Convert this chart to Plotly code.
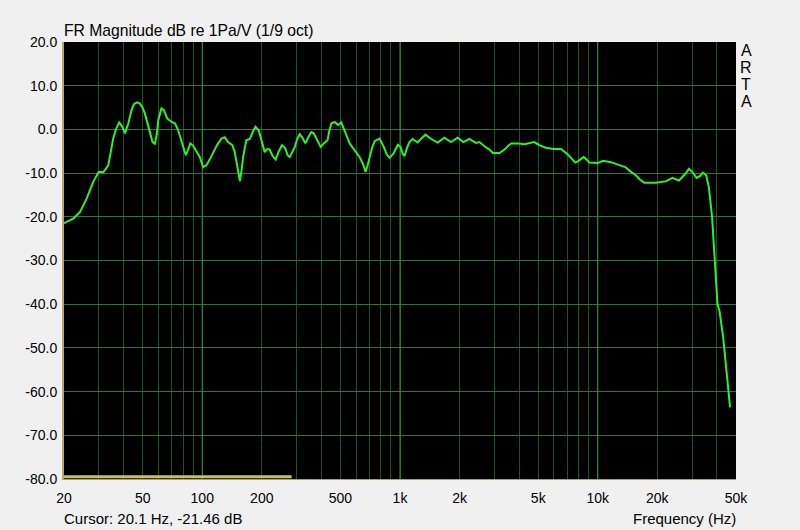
import math
import plotly.graph_objects as go

# Frequency response data (Hz, dB)
freq_hz = [20, 20.5, 22.3, 24.1, 26.0, 28.1, 30.0, 31.6, 33.5, 35.5, 36.6, 38.0, 39.3, 40.7,
           42.3, 43.9, 45.2, 46.9, 48.4, 49.8, 51.3, 53.3, 54.7, 56.1, 57.6, 59.0, 59.9, 61.1,
           62.2, 64.0, 66.5, 70.0, 72.8, 75.6, 79.5, 82.6, 84.6, 87.0, 89.8, 93.8, 97.2, 101,
           105, 109.4, 113, 118.8, 125, 130, 135, 142, 146, 149, 152, 155, 158, 161, 167, 174,
           180, 186, 193, 200, 207, 213, 219, 227, 235, 244, 253, 263, 270, 277, 285, 294, 302,
           311, 322, 332, 344, 356, 366, 381, 397, 412, 430, 438, 450, 468, 486, 505, 526, 540,
           556, 590, 624, 648, 670, 686, 702, 724, 744, 788, 828, 856, 886, 928, 975, 1006,
           1030, 1054, 1084, 1116, 1160, 1228, 1286, 1346, 1438, 1552, 1676, 1812, 1956, 2092,
           2240, 2420, 2520, 2624, 2732, 2820, 2950, 3188, 3376, 3646, 3936, 4252, 4500, 4774,
           5060, 5460, 5970, 6520, 7040, 7320, 7700, 8000, 8480, 8740, 9060, 10000, 10640,
           11640, 12840, 13860, 14600, 15580, 16260, 17180, 19640, 22060, 23820, 25760, 27820,
           28920, 30040, 31600, 32820, 34000, 35320, 36440, 37860, 39060, 40300, 41240, 43080,
           44740, 46660]
mag_db = [-21.5, -21.2, -20.4, -18.9, -15.9, -12.0, -9.7, -9.8, -8.2, -2.0, 0.0, 1.6, 0.7, -0.9,
          1.4, 4.4, 5.8, 6.2, 5.9, 5.1, 3.6, 0.6, -1.3, -2.9, -3.3, -0.9, 2.1, 3.9,
          4.8, 4.4, 2.5, 1.7, 1.4, -0.2, -3.2, -5.9, -4.8, -3.2, -3.7, -5.2, -6.3, -8.6,
          -8.2, -6.8, -5.5, -3.6, -2.1, -1.8, -2.9, -3.6, -5.2, -7.5, -9.8, -11.8, -9.4, -6.3, -2.5, -2.2,
          -0.6, 0.6, -0.2, -2.9, -5.2, -4.5, -4.6, -6.1, -6.9, -5.0, -3.6, -4.3, -5.9, -6.3, -5.2, -4.0, -2.2,
          -1.1, -2.0, -3.2, -1.8, -0.6, -0.9, -2.5, -4.0, -3.2, -2.5, -0.6, 1.4, 1.7, 1.0, 1.6, -0.4, -2.0,
          -3.2, -4.8, -6.3, -7.8, -9.7, -8.2, -6.3, -4.1, -2.7, -2.1, -4.0, -5.7, -6.5, -5.5, -3.5, -4.0,
          -5.5, -6.1, -4.3, -2.9, -2.2, -3.0, -2.0, -1.2, -2.2, -3.0, -1.9, -2.9, -1.9, -2.9,
          -2.2, -3.1, -2.9, -3.6, -4.2, -4.5, -5.4, -5.4, -4.6, -3.2, -3.2, -3.4, -3.2, -2.9,
          -3.6, -4.2, -4.5, -4.5, -5.7, -6.6, -7.6, -7.2, -6.3, -6.8, -7.6, -7.7, -7.2,
          -7.5, -8.1, -8.7, -9.6, -10.5, -11.4, -12.2, -12.2, -11.9, -11.1, -11.7, -10.1,
          -9.0, -9.7, -11.1, -10.7, -9.9, -10.5, -13.2, -20.1, -30.0, -39.9, -41.5, -47.6,
          -55.2, -63.6]

# Axis ticks
x_tick_vals = [20, 50, 100, 200, 500, 1000, 2000, 5000, 10000, 20000, 50000]
x_tick_text = ["20", "50", "100", "200", "500", "1k", "2k", "5k", "10k", "20k", "50k"]
x_minor_vals = [30, 40, 60, 70, 80, 90, 300, 400, 600, 700, 800, 900,
                3000, 4000, 6000, 7000, 8000, 9000, 30000, 40000]
x_decades = [100, 1000, 10000]
y_tick_vals = [20, 10, 0, -10, -20, -30, -40, -50, -60, -70, -80]
y_tick_text = ["20.0", "10.0", "0.0", "-10.0", "-20.0", "-30.0", "-40.0", "-50.0",
               "-60.0", "-70.0", "-80.0"]
x_range = [20, 50000]
y_range = [-80, 20]
cursor_span = [20, 283]
cursor_level = -79.5

FONT = "Liberation Sans, Arial, sans-serif"
fig = go.Figure()

# brighter decade grid lines
for d in x_decades:
    fig.add_trace(go.Scatter(x=[d, d], y=y_range, mode="lines",
                             line=dict(color="#3a903a", width=1),
                             hoverinfo="skip", showlegend=False))

# cursor bar along the bottom
fig.add_trace(go.Scatter(x=cursor_span, y=[cursor_level, cursor_level], mode="lines",
                         line=dict(color="#c8c058", width=3),
                         hoverinfo="skip", showlegend=False))

# frequency response curve
fig.add_trace(go.Scatter(x=freq_hz, y=mag_db, mode="lines",
                         line=dict(color="#2ef02e", width=2),
                         showlegend=False))

fig.update_layout(
    width=800, height=530,
    margin=dict(l=64, r=64, t=42, b=51),
    paper_bgcolor="#f0f0f0",
    plot_bgcolor="#000000",
    font=dict(family=FONT, size=14, color="#000000"),
    xaxis=dict(type="log", range=[math.log10(x_range[0]), math.log10(x_range[1])],
               tickvals=x_tick_vals, ticktext=x_tick_text,
               showgrid=True, gridcolor="#1f531f", gridwidth=1,
               minor=dict(tickvals=x_minor_vals, showgrid=True, gridcolor="#1f531f", gridwidth=1),
               showline=True, linecolor="#a8a070", linewidth=1,
               ticks="", zeroline=False, ticklabelstandoff=6,
               tickfont=dict(family=FONT, size=14)),
    yaxis=dict(range=y_range, tickvals=y_tick_vals, ticktext=y_tick_text,
               showgrid=True, gridcolor="#2f742f", gridwidth=1,
               showline=True, linecolor="#b8a868", linewidth=2,
               ticks="", zeroline=False, ticklabelstandoff=2,
               tickfont=dict(family=FONT, size=14)),
)

annotations = [
    dict(text="FR Magnitude dB re 1Pa/V (1/9 oct)", xref="paper", yref="paper",
         x=0, y=1, xanchor="left", yanchor="bottom", yshift=1, xshift=-2,
         showarrow=False, font=dict(family=FONT, size=15.7, color="#000")),
    dict(text="Cursor: 20.1 Hz, -21.46 dB", xref="paper", yref="paper",
         x=0, y=0, xanchor="left", yanchor="middle", yshift=-39, xshift=-2,
         showarrow=False, font=dict(family=FONT, size=15, color="#000")),
    dict(text="Frequency (Hz)", xref="paper", yref="paper",
         x=1, y=0, xanchor="right", yanchor="middle", yshift=-39, xshift=2,
         showarrow=False, font=dict(family=FONT, size=15, color="#000")),
]
for i, ch in enumerate("ARTA"):
    annotations.append(dict(text=ch, xref="paper", yref="paper", x=1, y=1,
                            xanchor="center", yanchor="middle", xshift=10,
                            yshift=-8 - 17 * i, showarrow=False,
                            font=dict(family=FONT, size=16, color="#000")))
fig.update_layout(annotations=annotations)

fig.write_html(
    "out.html",
    config={"displayModeBar": False},
    post_script="document.body.style.margin='0';document.body.style.background='#f0f0f0';",
)
